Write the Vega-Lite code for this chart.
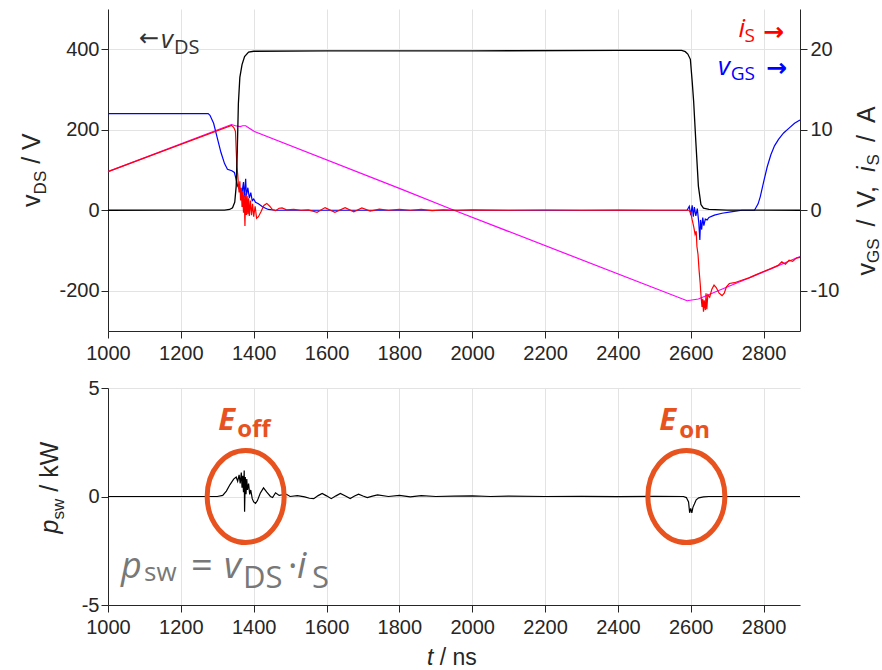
{
"$schema": "https://vega.github.io/schema/vega-lite/v6.json",
"autosize": {"type": "pad"},
"padding": {"left": 20, "top": 9, "right": 0, "bottom": 0},
"background": "white",
"datasets": {
"vds": [{"t":1000,"v":0},{"t":1200,"v":0.5},{"t":1320,"v":0.5},{"t":1334,"v":2},{"t":1342,"v":6},{"t":1348,"v":20},{"t":1352,"v":60},{"t":1355,"v":150},{"t":1358,"v":265},{"t":1362,"v":330},{"t":1368,"v":362},{"t":1375,"v":382},{"t":1386,"v":393},{"t":1400,"v":395},{"t":1600,"v":396},{"t":2000,"v":396},{"t":2400,"v":397},{"t":2575,"v":397},{"t":2585,"v":394},{"t":2592,"v":388},{"t":2599,"v":375},{"t":2604,"v":320},{"t":2608,"v":270},{"t":2614,"v":170},{"t":2621,"v":60},{"t":2628,"v":14},{"t":2635,"v":5},{"t":2650,"v":2},{"t":2700,"v":0.5},{"t":2900,"v":0}],
"il": [{"t":1000,"a":4.8},{"t":1339,"a":10.65},{"t":1350,"a":10.5},{"t":1363,"a":10.4},{"t":1370,"a":10.5},{"t":1378,"a":10.5},{"t":1388,"a":10.2},{"t":1402,"a":9.78},{"t":1807,"a":2.6},{"t":1950,"a":0},{"t":2590,"a":-11.24},{"t":2621,"a":-11.03},{"t":2700,"a":-9.54},{"t":2800,"a":-7.65},{"t":2900,"a":-5.75}],
"vgs": [{"t":1000,"a":12},{"t":1275,"a":12},{"t":1280,"a":11.8},{"t":1290,"a":10.8},{"t":1300,"a":9},{"t":1310,"a":7.2},{"t":1320,"a":5.8},{"t":1328,"a":5.1},{"t":1340,"a":4.9},{"t":1347,"a":4.7},{"t":1352,"a":3.8},{"t":1356,"a":3},{"t":1362,"a":2.5},{"t":1368,"a":2.2},{"t":1372,"a":3.5},{"t":1374,"a":1.6},{"t":1378,"a":3.9},{"t":1380,"a":1.8},{"t":1384,"a":2.8},{"t":1388,"a":1.5},{"t":1392,"a":2.2},{"t":1396,"a":1.2},{"t":1400,"a":1.4},{"t":1405,"a":1},{"t":1413,"a":0.8},{"t":1425,"a":0.4},{"t":1440,"a":0.1},{"t":1460,"a":0},{"t":2590,"a":0},{"t":2596,"a":0.5},{"t":2600,"a":-0.6},{"t":2604,"a":0.6},{"t":2607,"a":-0.8},{"t":2610,"a":0.4},{"t":2614,"a":-0.7},{"t":2618,"a":0.2},{"t":2622,"a":-1.5},{"t":2625,"a":-3.7},{"t":2627,"a":-1.2},{"t":2630,"a":-2.4},{"t":2633,"a":-0.9},{"t":2636,"a":-1.9},{"t":2640,"a":-1.1},{"t":2645,"a":-1.2},{"t":2650,"a":-0.9},{"t":2665,"a":-0.6},{"t":2686,"a":-0.37},{"t":2710,"a":-0.2},{"t":2741,"a":0},{"t":2775,"a":0},{"t":2785,"a":0.8},{"t":2791,"a":1.7},{"t":2800,"a":3.5},{"t":2810,"a":5.4},{"t":2820,"a":6.9},{"t":2830,"a":8},{"t":2841,"a":8.8},{"t":2855,"a":9.6},{"t":2870,"a":10.2},{"t":2885,"a":10.8},{"t":2900,"a":11.2}],
"is": [{"t":1000,"a":4.8},{"t":1339,"a":10.55},{"t":1345,"a":10.3},{"t":1350,"a":9.8},{"t":1352,"a":7.5},{"t":1354,"a":5.4},{"t":1356,"a":4.5},{"t":1358,"a":3.2},{"t":1360,"a":2.2},{"t":1362,"a":3.6},{"t":1364,"a":1.2},{"t":1366,"a":2.8},{"t":1368,"a":0.4},{"t":1370,"a":2.3},{"t":1372,"a":-0.3},{"t":1374,"a":1.9},{"t":1376,"a":-1.95},{"t":1378,"a":2.1},{"t":1380,"a":-0.6},{"t":1382,"a":1.8},{"t":1384,"a":-0.5},{"t":1386,"a":1.5},{"t":1388,"a":-0.7},{"t":1391,"a":1.2},{"t":1394,"a":-0.6},{"t":1397,"a":0.8},{"t":1400,"a":-0.8},{"t":1404,"a":0.5},{"t":1408,"a":-1.0},{"t":1413,"a":-0.8},{"t":1420,"a":-0.2},{"t":1428,"a":0.6},{"t":1436,"a":0.85},{"t":1444,"a":0.5},{"t":1452,"a":0.05},{"t":1460,"a":-0.05},{"t":1470,"a":0.25},{"t":1478,"a":0.3},{"t":1490,"a":0.05},{"t":1510,"a":0.1},{"t":1530,"a":0},{"t":1550,"a":0.05},{"t":1574,"a":-0.25},{"t":1596,"a":0.33},{"t":1623,"a":-0.25},{"t":1651,"a":0.33},{"t":1675,"a":-0.2},{"t":1697,"a":0.28},{"t":1720,"a":-0.1},{"t":1745,"a":0.15},{"t":1770,"a":0},{"t":1800,"a":0.1},{"t":1830,"a":0},{"t":1860,"a":0.1},{"t":1890,"a":-0.05},{"t":1920,"a":0.05},{"t":1960,"a":0},{"t":2000,"a":0.05},{"t":2100,"a":0},{"t":2200,"a":0.03},{"t":2300,"a":0},{"t":2400,"a":0.02},{"t":2500,"a":0},{"t":2595,"a":0},{"t":2600,"a":-0.3},{"t":2604,"a":-1.2},{"t":2608,"a":-2},{"t":2612,"a":-3},{"t":2615,"a":-2.6},{"t":2617,"a":-4.5},{"t":2620,"a":-5.5},{"t":2623,"a":-7.5},{"t":2626,"a":-9.1},{"t":2628,"a":-10.5},{"t":2631,"a":-12},{"t":2633,"a":-11},{"t":2635,"a":-12.6},{"t":2637,"a":-11.2},{"t":2640,"a":-12.4},{"t":2642,"a":-10.3},{"t":2644,"a":-12.3},{"t":2647,"a":-10.5},{"t":2652,"a":-10.8},{"t":2658,"a":-9.8},{"t":2664,"a":-9.3},{"t":2670,"a":-9.6},{"t":2678,"a":-10.3},{"t":2686,"a":-10.6},{"t":2692,"a":-10.3},{"t":2698,"a":-9.5},{"t":2706,"a":-9.1},{"t":2720,"a":-9.0},{"t":2740,"a":-8.7},{"t":2760,"a":-8.4},{"t":2780,"a":-8.0},{"t":2800,"a":-7.6},{"t":2820,"a":-7.25},{"t":2840,"a":-6.85},{"t":2850,"a":-6.4},{"t":2860,"a":-6.7},{"t":2870,"a":-6.2},{"t":2880,"a":-6.35},{"t":2890,"a":-5.95},{"t":2900,"a":-5.85}],
"psw": [{"t":1000,"p":0},{"t":1300,"p":0},{"t":1315,"p":0.05},{"t":1325,"p":0.25},{"t":1335,"p":0.55},{"t":1345,"p":0.8},{"t":1352,"p":0.9},{"t":1356,"p":0.7},{"t":1360,"p":1.0},{"t":1363,"p":0.6},{"t":1366,"p":1.1},{"t":1368,"p":0.4},{"t":1370,"p":0.95},{"t":1372,"p":0.2},{"t":1374,"p":1.2},{"t":1375,"p":-0.7},{"t":1377,"p":0.9},{"t":1379,"p":0.1},{"t":1381,"p":0.8},{"t":1383,"p":0.3},{"t":1386,"p":0.6},{"t":1389,"p":0.1},{"t":1392,"p":0.3},{"t":1396,"p":-0.1},{"t":1400,"p":-0.25},{"t":1405,"p":-0.32},{"t":1410,"p":-0.2},{"t":1418,"p":0.15},{"t":1427,"p":0.4},{"t":1436,"p":0.2},{"t":1446,"p":0},{"t":1452,"p":-0.05},{"t":1460,"p":0.17},{"t":1470,"p":0.05},{"t":1480,"p":0.08},{"t":1490,"p":0.1},{"t":1500,"p":0},{"t":1520,"p":0.04},{"t":1540,"p":-0.02},{"t":1553,"p":-0.08},{"t":1565,"p":-0.1},{"t":1577,"p":0.04},{"t":1588,"p":0.14},{"t":1600,"p":0.03},{"t":1613,"p":-0.1},{"t":1626,"p":0.03},{"t":1638,"p":0.14},{"t":1652,"p":0.02},{"t":1665,"p":-0.09},{"t":1677,"p":0.02},{"t":1688,"p":0.11},{"t":1700,"p":0.02},{"t":1712,"p":-0.05},{"t":1726,"p":0.02},{"t":1740,"p":0.07},{"t":1770,"p":0},{"t":1800,"p":0.05},{"t":1830,"p":-0.02},{"t":1860,"p":0.04},{"t":1900,"p":0},{"t":1950,"p":0.02},{"t":2000,"p":0.03},{"t":2050,"p":0},{"t":2100,"p":0.02},{"t":2200,"p":0},{"t":2300,"p":0.01},{"t":2400,"p":-0.01},{"t":2500,"p":0.01},{"t":2580,"p":0},{"t":2588,"p":-0.05},{"t":2594,"p":-0.25},{"t":2597,"p":-0.75},{"t":2600,"p":-0.55},{"t":2603,"p":-0.75},{"t":2606,"p":-0.5},{"t":2610,"p":-0.35},{"t":2615,"p":-0.15},{"t":2622,"p":-0.06},{"t":2635,"p":-0.02},{"t":2650,"p":0},{"t":2900,"p":0}],
"events": [{"t":1378,"p":0,"name":"Eoff"},{"t":2588,"p":0,"name":"Eon"}]
},
"vconcat": [
{
"width": 692, "height": 322,
"layer": [
{
"layer": [
{"data": {"name": "il"}, "mark": {"type": "line", "color": "#ff00ff", "strokeWidth": 1.2},
 "encoding": {"x": {"field": "t", "type": "quantitative", "scale": {"domain": [1000, 2900], "nice": false, "zero": false}},
  "y": {"field": "a", "type": "quantitative", "scale": {"domain": [-15, 25], "nice": false, "zero": false}, "axis": {"orient": "right", "values": [-10, 0, 10, 20], "labelExpr": "'' + datum.value", "grid": false, "title": null, "labelPadding": 3, "encode": {"ticks": {"update": {"x2": {"value": -7}}}}}}}},
{"data": {"name": "vgs"}, "mark": {"type": "line", "color": "#0000ff", "strokeWidth": 1.2},
 "encoding": {"x": {"field": "t", "type": "quantitative"}, "y": {"field": "a", "type": "quantitative"}}},
{"data": {"name": "is"}, "mark": {"type": "line", "color": "#ff0000", "strokeWidth": 1.2},
 "encoding": {"x": {"field": "t", "type": "quantitative"}, "y": {"field": "a", "type": "quantitative"}}},
{"data": {"values": [{}]}, "mark": {"type": "text", "text": "i", "font": "Open Sans", "fontStyle": "italic", "fontSize": 26, "color": "#ff0000", "align": "right", "baseline": "alphabetic", "dx": -55, "dy": -12},
 "encoding": {"x": {"datum": 2900, "type": "quantitative"}, "y": {"datum": 20, "type": "quantitative"}}},
{"data": {"values": [{}]}, "mark": {"type": "text", "text": "S", "font": "Open Sans", "fontSize": 19, "color": "#ff0000", "align": "right", "baseline": "alphabetic", "dx": -45, "dy": -7},
 "encoding": {"x": {"datum": 2900, "type": "quantitative"}, "y": {"datum": 20, "type": "quantitative"}}},
{"data": {"values": [{}]}, "mark": {"type": "text", "text": "→", "font": "DejaVu Sans", "fontWeight": "bold", "fontSize": 25, "color": "#ff0000", "align": "right", "baseline": "alphabetic", "dx": -16, "dy": -9},
 "encoding": {"x": {"datum": 2900, "type": "quantitative"}, "y": {"datum": 20, "type": "quantitative"}}},
{"data": {"values": [{}]}, "mark": {"type": "text", "text": "v", "font": "Open Sans", "fontStyle": "italic", "fontSize": 26, "color": "#0000ff", "align": "right", "baseline": "alphabetic", "dx": -70, "dy": 26},
 "encoding": {"x": {"datum": 2900, "type": "quantitative"}, "y": {"datum": 20, "type": "quantitative"}}},
{"data": {"values": [{}]}, "mark": {"type": "text", "text": "GS", "font": "Open Sans", "fontSize": 19, "color": "#0000ff", "align": "right", "baseline": "alphabetic", "dx": -45, "dy": 31},
 "encoding": {"x": {"datum": 2900, "type": "quantitative"}, "y": {"datum": 20, "type": "quantitative"}}},
{"data": {"values": [{}]}, "mark": {"type": "text", "text": "→", "font": "DejaVu Sans", "fontWeight": "bold", "fontSize": 25, "color": "#0000ff", "align": "right", "baseline": "alphabetic", "dx": -13, "dy": 27},
 "encoding": {"x": {"datum": 2900, "type": "quantitative"}, "y": {"datum": 20, "type": "quantitative"}}}
]
},
{
"layer": [
{"data": {"name": "vds"}, "mark": {"type": "line", "color": "#000000", "strokeWidth": 1.3},
 "encoding": {"x": {"field": "t", "type": "quantitative", "scale": {"domain": [1000, 2900], "nice": false, "zero": false}, "axis": {"values": [1000, 1200, 1400, 1600, 1800, 2000, 2200, 2400, 2600, 2800], "labelExpr": "'' + datum.value", "grid": true, "title": null, "labelPadding": 5.5, "encode": {"ticks": {"update": {"y2": {"value": -7}}}}}},
  "y": {"field": "v", "type": "quantitative", "scale": {"domain": [-300, 500], "nice": false, "zero": false}, "axis": {"orient": "left", "values": [-200, 0, 200, 400], "labelExpr": "'' + datum.value", "grid": true, "title": null, "labelPadding": 2, "encode": {"ticks": {"update": {"x2": {"value": 7}}}}}}}},
{"data": {"values": [{}]}, "mark": {"type": "text", "text": "←", "font": "DejaVu Sans", "fontSize": 24, "color": "#333333", "align": "left", "baseline": "alphabetic", "dx": 31, "dy": -3},
 "encoding": {"x": {"datum": 1000, "type": "quantitative"}, "y": {"datum": 400, "type": "quantitative"}}},
{"data": {"values": [{}]}, "mark": {"type": "text", "text": "v", "font": "Open Sans", "fontStyle": "italic", "fontSize": 26, "color": "#333333", "align": "left", "baseline": "alphabetic", "dx": 53, "dy": -1},
 "encoding": {"x": {"datum": 1000, "type": "quantitative"}, "y": {"datum": 400, "type": "quantitative"}}},
{"data": {"values": [{}]}, "mark": {"type": "text", "text": "DS", "font": "Open Sans", "fontSize": 20, "color": "#333333", "align": "left", "baseline": "alphabetic", "dx": 66, "dy": 5},
 "encoding": {"x": {"datum": 1000, "type": "quantitative"}, "y": {"datum": 400, "type": "quantitative"}}},
{"data": {"values": [{}]}, "mark": {"type": "text", "text": "v", "font": "Liberation Sans", "fontSize": 25, "color": "#262626", "align": "left", "baseline": "alphabetic", "angle": 270, "dx": -36.9, "dy": -68},
 "encoding": {"x": {"datum": 1000, "type": "quantitative"}, "y": {"datum": 100, "type": "quantitative"}}},
{"data": {"values": [{}]}, "mark": {"type": "text", "text": "DS", "font": "Liberation Sans", "fontSize": 17, "color": "#262626", "align": "left", "baseline": "alphabetic", "angle": 270, "dx": -24.4, "dy": -62},
 "encoding": {"x": {"datum": 1000, "type": "quantitative"}, "y": {"datum": 100, "type": "quantitative"}}},
{"data": {"values": [{}]}, "mark": {"type": "text", "text": "/ V", "font": "Liberation Sans", "fontSize": 25, "color": "#262626", "align": "left", "baseline": "alphabetic", "angle": 270, "dx": 6.2, "dy": -68},
 "encoding": {"x": {"datum": 1000, "type": "quantitative"}, "y": {"datum": 100, "type": "quantitative"}}},
{"data": {"values": [{}]}, "mark": {"type": "text", "text": "v", "font": "Liberation Sans", "fontSize": 25, "color": "#262626", "align": "left", "baseline": "alphabetic", "angle": 270, "dx": -105.5, "dy": 75},
 "encoding": {"x": {"datum": 2900, "type": "quantitative"}, "y": {"datum": 100, "type": "quantitative"}}},
{"data": {"values": [{}]}, "mark": {"type": "text", "text": "GS", "font": "Liberation Sans", "fontSize": 17, "color": "#262626", "align": "left", "baseline": "alphabetic", "angle": 270, "dx": -93, "dy": 79},
 "encoding": {"x": {"datum": 2900, "type": "quantitative"}, "y": {"datum": 100, "type": "quantitative"}}},
{"data": {"values": [{}]}, "mark": {"type": "text", "text": "/", "font": "Liberation Sans", "fontSize": 25, "color": "#262626", "align": "left", "baseline": "alphabetic", "angle": 270, "dx": -56.5, "dy": 75},
 "encoding": {"x": {"datum": 2900, "type": "quantitative"}, "y": {"datum": 100, "type": "quantitative"}}},
{"data": {"values": [{}]}, "mark": {"type": "text", "text": "V,", "font": "Liberation Sans", "fontSize": 25, "color": "#262626", "align": "left", "baseline": "alphabetic", "angle": 270, "dx": -37.5, "dy": 75},
 "encoding": {"x": {"datum": 2900, "type": "quantitative"}, "y": {"datum": 100, "type": "quantitative"}}},
{"data": {"values": [{}]}, "mark": {"type": "text", "text": "i", "font": "Liberation Sans", "fontStyle": "italic", "fontSize": 25, "color": "#262626", "align": "left", "baseline": "alphabetic", "angle": 270, "dx": -2, "dy": 75},
 "encoding": {"x": {"datum": 2900, "type": "quantitative"}, "y": {"datum": 100, "type": "quantitative"}}},
{"data": {"values": [{}]}, "mark": {"type": "text", "text": "S", "font": "Liberation Sans", "fontSize": 17, "color": "#262626", "align": "left", "baseline": "alphabetic", "angle": 270, "dx": 4.6, "dy": 79},
 "encoding": {"x": {"datum": 2900, "type": "quantitative"}, "y": {"datum": 100, "type": "quantitative"}}},
{"data": {"values": [{}]}, "mark": {"type": "text", "text": "/", "font": "Liberation Sans", "fontSize": 25, "color": "#262626", "align": "left", "baseline": "alphabetic", "angle": 270, "dx": 28, "dy": 75},
 "encoding": {"x": {"datum": 2900, "type": "quantitative"}, "y": {"datum": 100, "type": "quantitative"}}},
{"data": {"values": [{}]}, "mark": {"type": "text", "text": "A", "font": "Liberation Sans", "fontSize": 25, "color": "#262626", "align": "left", "baseline": "alphabetic", "angle": 270, "dx": 47, "dy": 75},
 "encoding": {"x": {"datum": 2900, "type": "quantitative"}, "y": {"datum": 100, "type": "quantitative"}}}
]
}
],
"resolve": {"scale": {"y": "independent"}, "axis": {"y": "independent"}}
},
{
"width": 692, "height": 217,
"layer": [
{"data": {"name": "psw"}, "mark": {"type": "line", "color": "#000000", "strokeWidth": 1.2},
 "encoding": {"x": {"field": "t", "type": "quantitative", "scale": {"domain": [1000, 2900], "nice": false, "zero": false}, "axis": {"values": [1000, 1200, 1400, 1600, 1800, 2000, 2200, 2400, 2600, 2800], "labelExpr": "'' + datum.value", "grid": true, "title": null, "labelPadding": 5.5, "encode": {"ticks": {"update": {"y2": {"value": -7}}}}}},
  "y": {"field": "p", "type": "quantitative", "scale": {"domain": [-5, 5], "nice": false, "zero": false}, "axis": {"values": [-5, 0, 5], "labelExpr": "'' + datum.value", "grid": true, "title": null, "labelPadding": 2, "encode": {"ticks": {"update": {"x2": {"value": 7}}}}}}}},
{"data": {"name": "events"}, "mark": {"type": "point", "filled": false, "stroke": "#E8521E", "strokeWidth": 5, "opacity": 1, "size": 8464, "shape": "M0,-1C0.4623,-1 0.837,-0.5523 0.837,0C0.837,0.5523 0.4623,1 0,1C-0.4623,1 -0.837,0.5523 -0.837,0C-0.837,-0.5523 -0.4623,-1 0,-1Z"},
 "encoding": {"x": {"field": "t", "type": "quantitative"}, "y": {"field": "p", "type": "quantitative"}}},
{"data": {"values": [{}]}, "mark": {"type": "text", "text": "E", "font": "Open Sans", "fontWeight": "bold", "fontStyle": "italic", "fontSize": 31, "color": "#E8521E", "align": "left", "baseline": "alphabetic", "dx": 1, "dy": -66.5},
 "encoding": {"x": {"datum": 1300, "type": "quantitative"}, "y": {"datum": 0, "type": "quantitative"}}},
{"data": {"values": [{}]}, "mark": {"type": "text", "text": "off", "font": "Open Sans", "fontWeight": "bold", "fontSize": 24, "color": "#E8521E", "align": "left", "baseline": "alphabetic", "dx": 20, "dy": -59.5},
 "encoding": {"x": {"datum": 1300, "type": "quantitative"}, "y": {"datum": 0, "type": "quantitative"}}},
{"data": {"values": [{}]}, "mark": {"type": "text", "text": "E", "font": "Open Sans", "fontWeight": "bold", "fontStyle": "italic", "fontSize": 31, "color": "#E8521E", "align": "left", "baseline": "alphabetic", "dx": 5, "dy": -66.5},
 "encoding": {"x": {"datum": 2500, "type": "quantitative"}, "y": {"datum": 0, "type": "quantitative"}}},
{"data": {"values": [{}]}, "mark": {"type": "text", "text": "on", "font": "Open Sans", "fontWeight": "bold", "fontSize": 24, "color": "#E8521E", "align": "left", "baseline": "alphabetic", "dx": 25, "dy": -58.5},
 "encoding": {"x": {"datum": 2500, "type": "quantitative"}, "y": {"datum": 0, "type": "quantitative"}}},
{"data": {"values": [{}]}, "mark": {"type": "text", "text": "p", "font": "Open Sans", "fontStyle": "italic", "fontSize": 36, "color": "#787878", "align": "left", "baseline": "alphabetic", "dx": 13, "dy": 81.5},
 "encoding": {"x": {"datum": 1000, "type": "quantitative"}, "y": {"datum": 0, "type": "quantitative"}}},
{"data": {"values": [{}]}, "mark": {"type": "text", "text": "sw", "font": "Open Sans", "fontSize": 26, "color": "#787878", "align": "left", "baseline": "alphabetic", "dx": 36, "dy": 84.5},
 "encoding": {"x": {"datum": 1000, "type": "quantitative"}, "y": {"datum": 0, "type": "quantitative"}}},
{"data": {"values": [{}]}, "mark": {"type": "text", "text": "=", "font": "Open Sans", "fontSize": 38, "color": "#787878", "align": "left", "baseline": "alphabetic", "dx": 83, "dy": 81.5},
 "encoding": {"x": {"datum": 1000, "type": "quantitative"}, "y": {"datum": 0, "type": "quantitative"}}},
{"data": {"values": [{}]}, "mark": {"type": "text", "text": "v", "font": "Open Sans", "fontStyle": "italic", "fontSize": 37, "color": "#787878", "align": "left", "baseline": "alphabetic", "dx": 116, "dy": 81.5},
 "encoding": {"x": {"datum": 1000, "type": "quantitative"}, "y": {"datum": 0, "type": "quantitative"}}},
{"data": {"values": [{}]}, "mark": {"type": "text", "text": "DS", "font": "Open Sans", "fontSize": 31, "color": "#787878", "align": "left", "baseline": "alphabetic", "dx": 135, "dy": 91.5},
 "encoding": {"x": {"datum": 1000, "type": "quantitative"}, "y": {"datum": 0, "type": "quantitative"}}},
{"data": {"values": [{}]}, "mark": {"type": "text", "text": "·", "font": "Open Sans", "fontSize": 36, "color": "#787878", "align": "left", "baseline": "alphabetic", "dx": 180, "dy": 81.5},
 "encoding": {"x": {"datum": 1000, "type": "quantitative"}, "y": {"datum": 0, "type": "quantitative"}}},
{"data": {"values": [{}]}, "mark": {"type": "text", "text": "i", "font": "Open Sans", "fontStyle": "italic", "fontSize": 37, "color": "#787878", "align": "left", "baseline": "alphabetic", "dx": 189, "dy": 81.5},
 "encoding": {"x": {"datum": 1000, "type": "quantitative"}, "y": {"datum": 0, "type": "quantitative"}}},
{"data": {"values": [{}]}, "mark": {"type": "text", "text": "S", "font": "Open Sans", "fontSize": 31, "color": "#787878", "align": "left", "baseline": "alphabetic", "dx": 204, "dy": 91.5},
 "encoding": {"x": {"datum": 1000, "type": "quantitative"}, "y": {"datum": 0, "type": "quantitative"}}},
{"data": {"values": [{}]}, "mark": {"type": "text", "text": "p", "font": "Liberation Sans", "fontStyle": "italic", "fontSize": 25, "color": "#262626", "align": "left", "baseline": "alphabetic", "angle": 270, "dx": -37, "dy": -50},
 "encoding": {"x": {"datum": 1000, "type": "quantitative"}, "y": {"datum": 0, "type": "quantitative"}}},
{"data": {"values": [{}]}, "mark": {"type": "text", "text": "sw", "font": "Liberation Sans", "fontSize": 17, "color": "#262626", "align": "left", "baseline": "alphabetic", "angle": 270, "dx": -23, "dy": -44},
 "encoding": {"x": {"datum": 1000, "type": "quantitative"}, "y": {"datum": 0, "type": "quantitative"}}},
{"data": {"values": [{}]}, "mark": {"type": "text", "text": "/ kW", "font": "Liberation Sans", "fontSize": 25, "color": "#262626", "align": "left", "baseline": "alphabetic", "angle": 270, "dx": 4.8, "dy": -50},
 "encoding": {"x": {"datum": 1000, "type": "quantitative"}, "y": {"datum": 0, "type": "quantitative"}}},
{"data": {"values": [{}]}, "mark": {"type": "text", "text": "t", "font": "Liberation Sans", "fontStyle": "italic", "fontSize": 23, "color": "#262626", "align": "left", "baseline": "alphabetic", "dx": -27, "dy": 60},
 "encoding": {"x": {"datum": 1950, "type": "quantitative"}, "y": {"datum": -5, "type": "quantitative"}}},
{"data": {"values": [{}]}, "mark": {"type": "text", "text": "/ ns", "font": "Liberation Sans", "fontSize": 23, "color": "#262626", "align": "left", "baseline": "alphabetic", "dx": -14.2, "dy": 60},
 "encoding": {"x": {"datum": 1950, "type": "quantitative"}, "y": {"datum": -5, "type": "quantitative"}}}
]
}
],
"spacing": 57,
"bounds": "flush",
"config": {
"view": {"stroke": null},
"axis": {"labelFont": "Liberation Sans", "labelFontSize": 20, "labelColor": "#262626", "domainColor": "#262626", "tickColor": "#262626", "gridColor": "#e3e3e3", "tickSize": 7, "labelFlush": false, "labelOverlap": false}
}
}
